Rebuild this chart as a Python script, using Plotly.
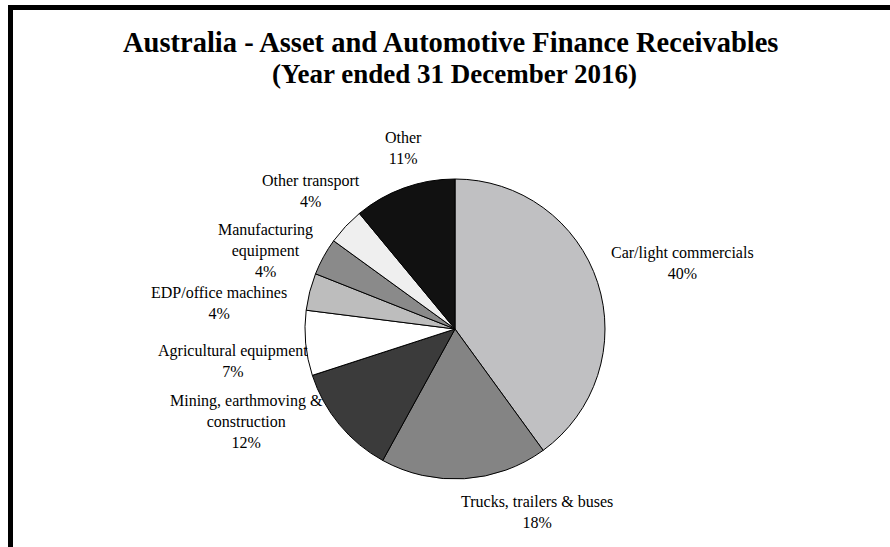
import plotly.graph_objects as go

# Receivables mix by asset class (percent of total)
categories = [
    "Car/light commercials",
    "Trucks, trailers & buses",
    "Mining, earthmoving & construction",
    "Agricultural equipment",
    "EDP/office machines",
    "Manufacturing equipment",
    "Other transport",
    "Other",
]
shares = [40, 18, 12, 7, 4, 4, 4, 11]

# How each label is broken onto lines
label_lines = [
    ["Car/light commercials"],
    ["Trucks, trailers & buses"],
    ["Mining, earthmoving &", "construction"],
    ["Agricultural equipment"],
    ["EDP/office machines"],
    ["Manufacturing", "equipment"],
    ["Other transport"],
    ["Other"],
]

title_lines = [
    "Australia - Asset and Automotive Finance Receivables",
    "(Year ended 31 December 2016)",
]

slice_colors = ["#c0c0c2", "#848484", "#3b3b3b", "#ffffff",
                "#bdbdbd", "#8a8a8a", "#efefef", "#111111"]

W, H = 890, 547
# label block centres in pixels (x, y from top)
label_px = [(682, 263), (537, 512), (246, 421), (233, 361),
            (219, 303), (265, 250), (311, 191), (403, 148)]
title_px = [(450, 43), (454, 74)]
title_sizes = [28.5, 27]

# pie geometry in pixels
cx, cy, r = 455, 329, 150

fig = go.Figure(go.Pie(
    labels=categories,
    values=shares,
    sort=False,
    direction="clockwise",
    rotation=0,
    textinfo="none",
    hoverinfo="label+percent",
    marker=dict(colors=slice_colors, line=dict(color="#000000", width=1)),
    domain=dict(x=[(cx - r) / W, (cx + r) / W],
                y=[(H - cy - r) / H, (H - cy + r) / H]),
    showlegend=False,
))

font_family = "Liberation Serif, Times New Roman, serif"

annotations = []
for lines, v, (px, py) in zip(label_lines, shares, label_px):
    annotations.append(dict(
        x=px / W, y=1 - py / H, xref="paper", yref="paper",
        text="<br>".join(lines + [f"{v}%"]),
        showarrow=False, xanchor="center", yanchor="middle", align="center",
        font=dict(family=font_family, size=16, color="#000000"),
    ))

for line, (px, py), fs in zip(title_lines, title_px, title_sizes):
    annotations.append(dict(
        x=px / W, y=1 - py / H, xref="paper", yref="paper",
        text=f"<b>{line}</b>",
        showarrow=False, xanchor="center", yanchor="middle", align="center",
        font=dict(family=font_family, size=fs, color="#000000"),
    ))

fig.update_layout(
    width=W, height=H,
    margin=dict(l=0, r=0, t=0, b=0),
    paper_bgcolor="#ffffff",
    plot_bgcolor="#ffffff",
    annotations=annotations,
    shapes=[
        # frame around the chart area (left and top edges)
        dict(type="line", xref="paper", yref="paper",
             x0=10.5 / W, x1=1.02, y0=1 - 7.5 / H, y1=1 - 7.5 / H,
             line=dict(color="#000000", width=5)),
        dict(type="line", xref="paper", yref="paper",
             x0=10.5 / W, x1=10.5 / W, y0=1 - 5 / H, y1=-0.02,
             line=dict(color="#000000", width=5)),
    ],
)

fig.write_html("out.html")
